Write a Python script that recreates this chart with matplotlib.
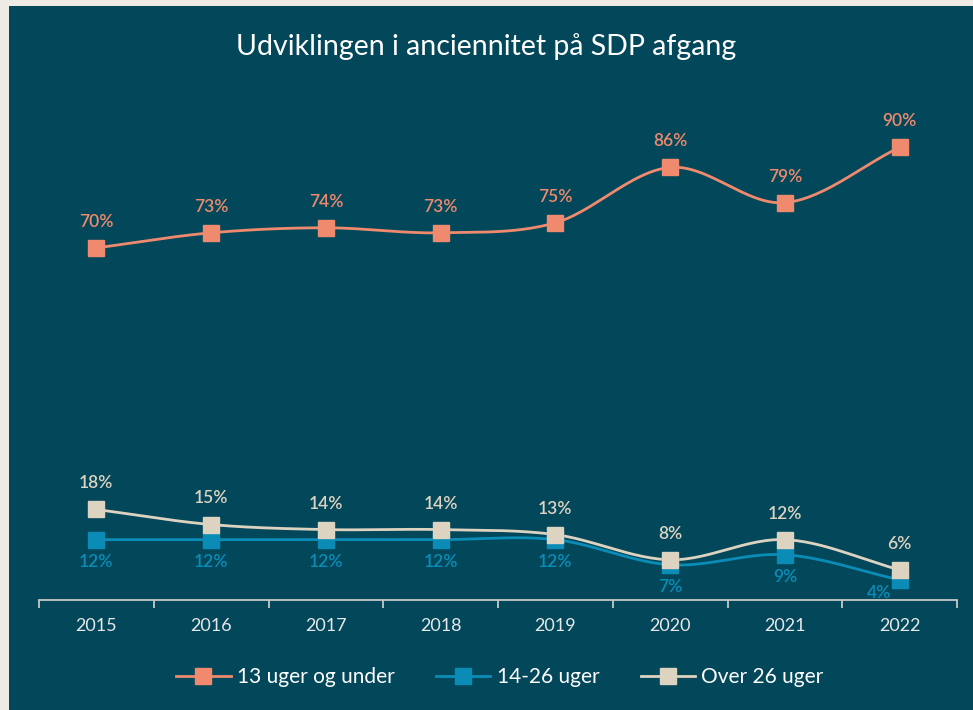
import numpy as np
import matplotlib.pyplot as plt
from matplotlib.patches import Rectangle

# data
years = ["2015", "2016", "2017", "2018", "2019", "2020", "2021", "2022"]
under_13 = [70, 73, 74, 73, 75, 86, 79, 90]
weeks_14_26 = [12, 12, 12, 12, 12, 7, 9, 4]
over_26 = [18, 15, 14, 14, 13, 8, 12, 6]

BG = "#02475a"
BORDER = "#eeeae4"
ORANGE = "#ef8a6e"
BLUE = "#0b8cb6"
BEIGE = "#ddd3c1"

plt.rcParams["font.family"] = ["Lato", "DejaVu Sans"]


def smooth(xs, ys, n=30):
    # Catmull-Rom spline through the points, like Excel's smoothed lines
    xs = np.asarray(xs, float)
    ys = np.asarray(ys, float)
    px = np.concatenate([[2 * xs[0] - xs[1]], xs, [2 * xs[-1] - xs[-2]]])
    py = np.concatenate([[2 * ys[0] - ys[1]], ys, [2 * ys[-1] - ys[-2]]])
    ox, oy = [], []
    t = np.linspace(0, 1, n)
    for i in range(1, len(px) - 2):
        for arr, out in ((px, ox), (py, oy)):
            p0, p1, p2, p3 = arr[i - 1], arr[i], arr[i + 1], arr[i + 2]
            out.extend(0.5 * ((2 * p1) + (-p0 + p2) * t
                              + (2 * p0 - 5 * p1 + 4 * p2 - p3) * t ** 2
                              + (-p0 + 3 * p1 - 3 * p2 + p3) * t ** 3))
    return np.array(ox), np.array(oy)


W, H = 973, 710
fig = plt.figure(figsize=(W / 100, H / 100), dpi=100)
fig.patch.set_facecolor(BORDER)
fig.add_artist(Rectangle((9 / W, 0), 1 - 9 / W, 1 - 6 / H,
                         transform=fig.transFigure, facecolor=BG,
                         edgecolor="none", zorder=0))

ax = fig.add_axes([39 / W, (H - 600) / H, (957 - 39) / W, 503 / H])
ax.set_facecolor("none")
x = np.arange(len(years))

series = [
    (under_13, ORANGE, "13 uger og under", "above"),
    (weeks_14_26, BLUE, "14-26 uger", "below"),
    (over_26, BEIGE, "Over 26 uger", "above"),
]
for vals, col, name, pos in series:
    sx, sy = smooth(x, vals)
    ax.plot(sx, sy, color=col, lw=2.0, zorder=2, solid_capstyle="round")
    ax.plot(x, vals, ls="none", marker="s", ms=11, color=col,
            mec=col, zorder=3)
    ax.plot([], [], color=col, lw=2.0, marker="s", ms=11, label=name)
    for xi, v in zip(x, vals):
        if pos == "above":
            ax.annotate(f"{v}%", (xi, v), xytext=(0, 13), textcoords="offset points",
                        ha="center", va="bottom", color=col, fontsize=12.5,
                        fontweight="semibold")
        else:
            # last label sits to the lower left so it clears the axis
            dx, dy = (-15, -4) if xi == len(x) - 1 else (0, -10)
            ax.annotate(f"{v}%", (xi, v), xytext=(dx, dy), textcoords="offset points",
                        ha="center", va="top", color=col, fontsize=12.5,
                        fontweight="semibold")

ax.set_xlim(-0.5, len(years) - 0.5)
ax.set_ylim(0, 100)
ax.set_yticks([])
for s in ("top", "right", "left"):
    ax.spines[s].set_visible(False)
ax.spines["bottom"].set_color("#c8c8c8")
ax.spines["bottom"].set_linewidth(1.3)
ax.set_xticks(np.arange(-0.5, len(years)), minor=False)
ax.set_xticklabels([])
ax.tick_params(axis="x", which="major", direction="out", length=6,
               color="#c8c8c8", width=1.3)
ax.set_xticks(x, minor=True)
ax.set_xticklabels(years, minor=True)
ax.tick_params(axis="x", which="minor", length=0, pad=13,
               labelcolor="#e8e8e8", labelsize=13)

fig.text(0.5, 1 - 47 / H, "Udviklingen i anciennitet på SDP afgang",
         ha="center", va="center", color="white", fontsize=20.5)

leg = fig.legend(loc="center", bbox_to_anchor=(500 / W, 1 - 677 / H), ncol=3,
                 frameon=False, fontsize=15, labelcolor="white",
                 handlelength=2.6, handletextpad=0.3, columnspacing=2.0)

fig.savefig("out.png", dpi=100, facecolor=fig.get_facecolor())
